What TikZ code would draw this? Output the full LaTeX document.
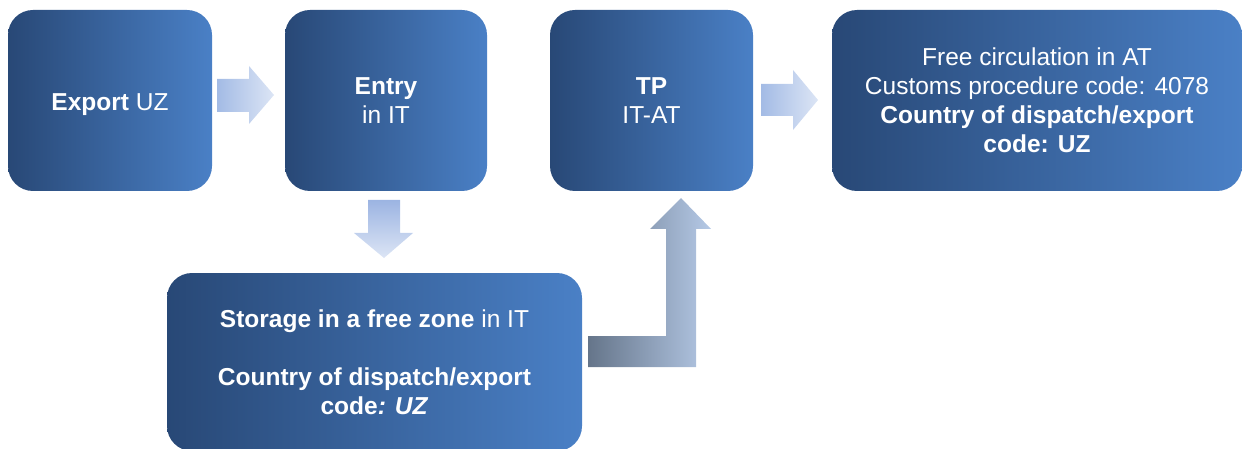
\documentclass[tikz,border=0pt]{standalone}
\usepackage{fontspec}
\setmainfont{Liberation Sans}
\definecolor{boxL}{HTML}{284876}
\definecolor{boxR}{HTML}{4A80C6}
\definecolor{arrL}{HTML}{A3BBE5}
\definecolor{arrR}{HTML}{DCE5F5}
\definecolor{arrT}{HTML}{9CB4E2}
\definecolor{bendL}{HTML}{65758A}
\definecolor{bendR}{HTML}{B5C9E6}
\begin{document}
\begin{tikzpicture}[x=1pt,y=-1pt,
  box/.style={rounded corners=25pt, left color=boxL, right color=boxR, draw=none,
    text=white, align=center, inner sep=0pt,
    font=\fontsize{24.5}{29}\selectfont},
  blockarrow/.style={draw=none, left color=arrL, right color=arrR}]
\useasboundingbox (0,0) rectangle (1242,449);
\node[box, minimum width=204pt, minimum height=181pt] (export) at (110,100.5) {\raisebox{-4pt}[\height][\depth]{\textbf{Export} UZ}};
\node[box, minimum width=202pt, minimum height=181pt] (entry) at (386,100.5) {\textbf{Entry}\\in IT};
\node[box, minimum width=203pt, minimum height=181pt] (tp) at (651.5,100.5) {\textbf{TP}\\IT-AT};
\node[box, minimum width=410pt, minimum height=181pt] (free) at (1037,100.5)
  {Free circulation in AT\\Customs procedure code: 4078\\\textbf{Country of dispatch/export}\\\textbf{code: UZ}};
\node[box, minimum width=415pt, minimum height=178pt] (storage) at (374.5,362)
  {\textbf{Storage in a free zone} in IT\\[29pt]\textbf{Country of dispatch/export}\\\textbf{code\textit{: UZ}}};
% block arrows
\shade[blockarrow] (217,79) -- (249,79) -- (249,66) -- (274,95) -- (249,124) -- (249,112) -- (217,112) -- cycle;
\shade[draw=none, top color=arrT, bottom color=arrR] (368,200) -- (400,200) -- (400,233) -- (413,233) -- (384,258) -- (354,233) -- (368,233) -- cycle;
\shade[draw=none, left color=bendL, right color=bendR] (588,336) -- (666,336) -- (666,229) -- (650,229) -- (681,198) -- (711,229) -- (696,229) -- (696,367) -- (588,367) -- cycle;
\shade[blockarrow] (761,84) -- (793,84) -- (793,70) -- (818,100) -- (793,130) -- (793,116) -- (761,116) -- cycle;
\end{tikzpicture}
\end{document}
